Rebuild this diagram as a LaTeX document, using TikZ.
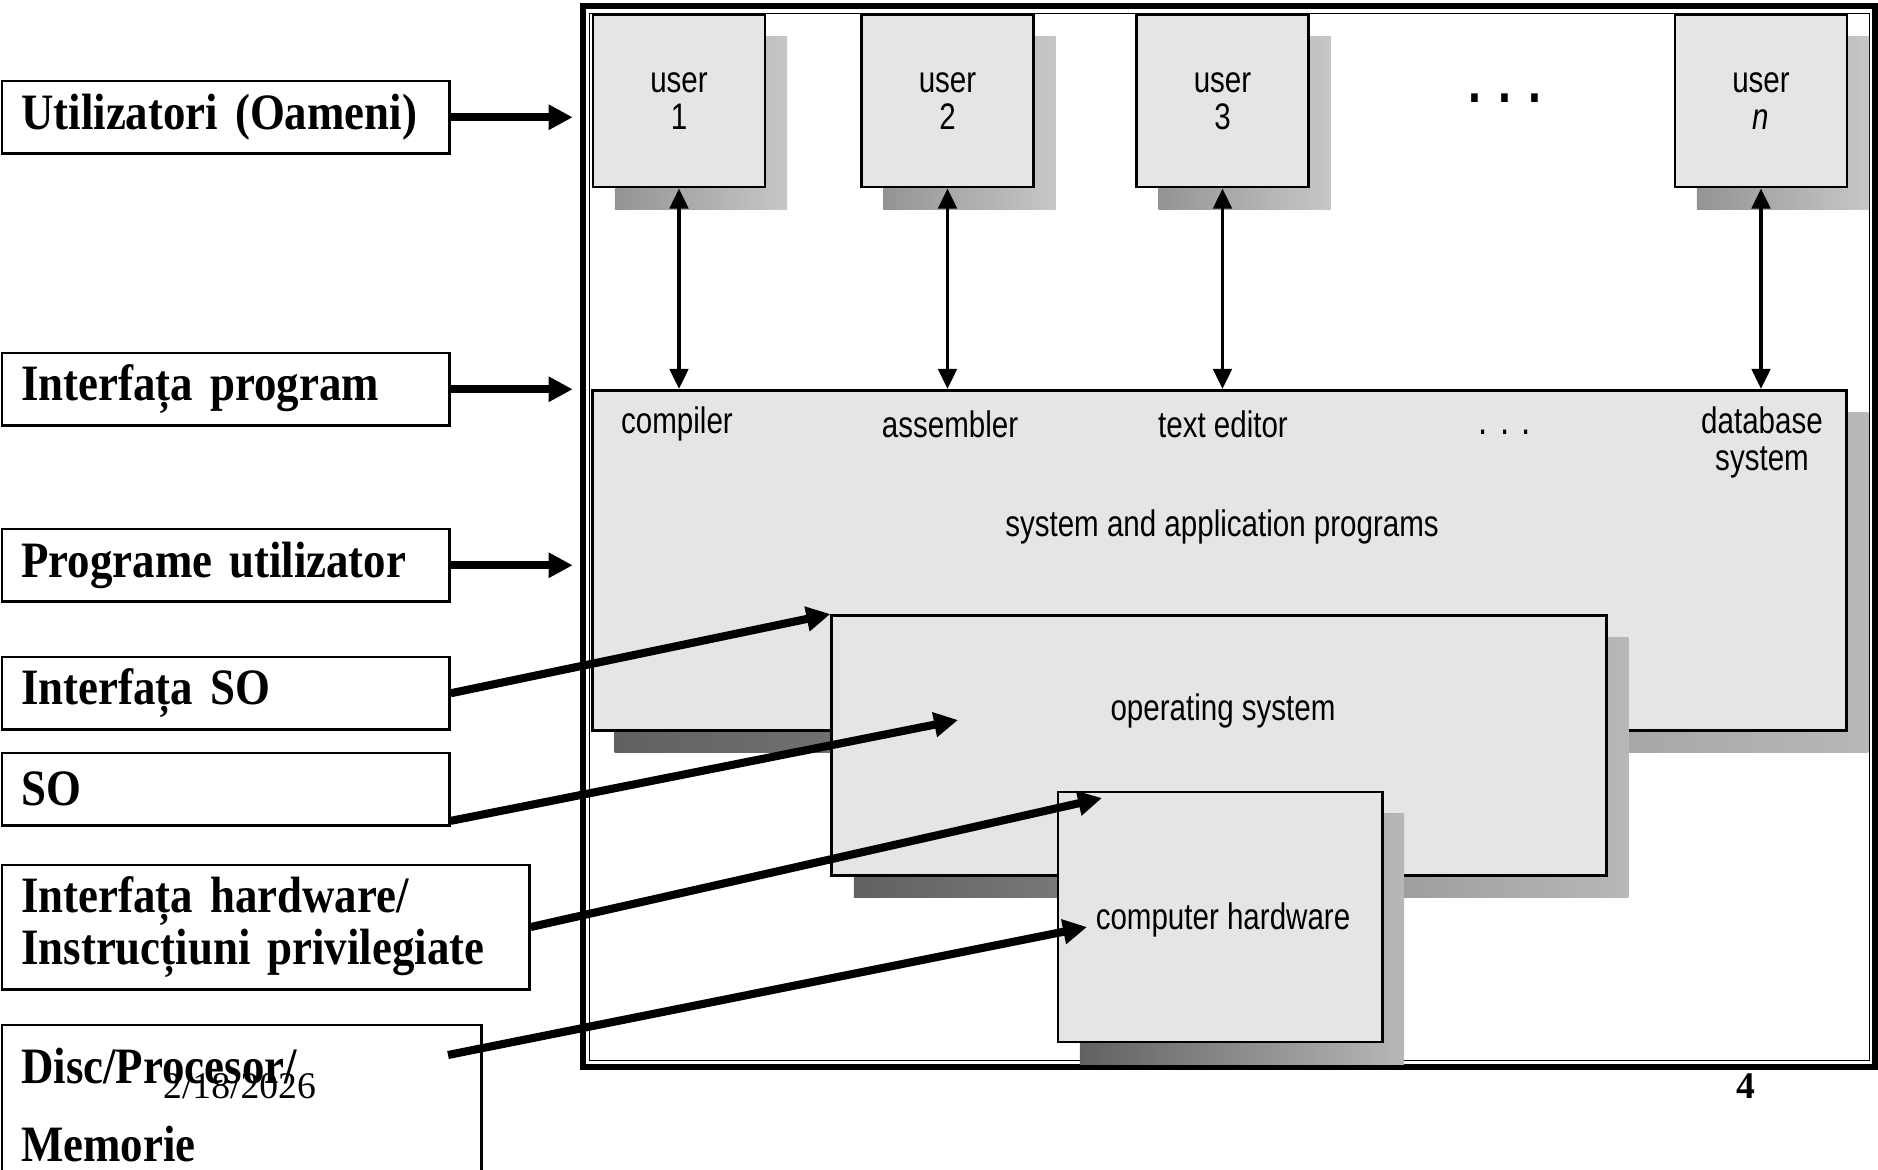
\documentclass[tikz,border=0pt]{standalone}
\usepackage{fontspec}
\setmainfont{Liberation Serif}
\newfontfamily\figfont[FakeStretch=0.8]{Liberation Sans}
\newfontfamily\lblfont[FakeStretch=0.88,WordSpace=0.8]{Liberation Serif}
\usetikzlibrary{arrows.meta,shadows}
\tikzset{
	figtxt/.style={font=\figfont\fontsize{10.5}{10.5}\selectfont, align=center, inner sep=1pt},
	mainbox/.style={draw, line width=0.8pt, fill=black!10, inner sep=0pt},
	bigshadow/.style={general shadow={shadow xshift=0.22cm, shadow yshift=-0.22cm, left color=black!62, right color=black!28}},
	smallshadow/.style={general shadow={shadow xshift=0.22cm, shadow yshift=-0.22cm, left color=black!42, right color=black!22}},
	ubox/.style={mainbox, smallshadow, figtxt, minimum size=1.72cm},
	lblbox/.style={draw, line width=0.7pt, anchor=north west, inner xsep=0.19cm, inner ysep=0pt, align=left, font=\lblfont\bfseries\fontsize{14.5}{15}\selectfont},
	bigarrow/.style={line width=2.3pt, -{Triangle[width=6.8pt,length=6.8pt]}},
	duoarrow/.style={line width=1.1pt, {Triangle[width=5.2pt,length=5.7pt]}-{Triangle[width=5.2pt,length=5.7pt]}}
}

\begin{document}
\begin{tikzpicture}[x=0.01cm, y=-0.01cm]
			%%%%% START %%%%%
			\useasboundingbox (0,0) rectangle (1878,1169);
			
			\node[draw, line width=1.7pt, minimum width=12.92cm, minimum height=10.61cm, inner sep=0pt] (frame) at (1229,536.5) {};
			\node[draw, line width=0.45pt, minimum width=12.79cm, minimum height=10.46cm, inner sep=0pt] (inframe) at (1229.5,537) {};
			
			\node[mainbox, bigshadow, minimum width=12.53cm, minimum height=3.40cm] (prog) at (1219.5,560.5) {};
			\node[mainbox, bigshadow, minimum width=7.74cm, minimum height=2.60cm] (os) at (1219,745.5) {};
			\node[mainbox, bigshadow, minimum width=3.24cm, minimum height=2.50cm] (hw) at (1220,917) {};
			
			\node[ubox] (u1) at (679,101) {user\\1};
			\node[ubox] (u2) at (947.5,101) {user\\2};
			\node[ubox] (u3) at (1222.5,101) {user\\3};
			\node[ubox] (un) at (1761,101) {user\\\textit{n}};
			\node[figtxt, font=\figfont\fontsize{16.5}{16.5}\selectfont\bfseries] (udots) at (1505,98) {. . .};
			
			\node[figtxt] (comp) at (677,424) {compiler};
			\node[figtxt] (asm) at (950,424) {assembler};
			\node[figtxt] (ted) at (1223,424) {text editor};
			\node[figtxt, font=\figfont\fontsize{11.8}{11.8}\selectfont] (pdots) at (1505,432) {. . .};
			\node[figtxt] (dbs) at (1762,442) {database\\system};
			\node[figtxt] (sysapp) at (1222,527) {system and application programs};
			\node[figtxt] (osl) at (1223,711) {operating system};
			\node[figtxt] (hwl) at (1223,920) {computer hardware};
			
			\foreach \u in {u1,u2,u3,un}
				\draw[duoarrow] (\u.south) -- (\u.south |- prog.north);
			
			\node[lblbox, text width=4.09cm, minimum height=0.72cm] (util) at (1,80) {Utilizatori (Oameni)};
			\node[lblbox, text width=4.09cm, minimum height=0.72cm] (progif) at (1,352) {Interfața program};
			\node[lblbox, text width=4.09cm, minimum height=0.72cm] (progu) at (1,528) {Programe utilizator};
			\node[lblbox, text width=4.09cm, minimum height=0.72cm] (soif) at (1,656) {Interfața SO};
			\node[lblbox, text width=4.09cm, minimum height=0.72cm] (so) at (1,752) {SO};
			\node[lblbox, text width=4.89cm, minimum height=1.245cm] (hwif) at (1,863.5) {Interfața hardware/\\Instrucțiuni privilegiate};
			\node[lblbox, text width=4.41cm, minimum height=1.60cm] (disc) at (1,1024) {Disc/Procesor/\\[0.25cm]Memorie};
			
			\draw[bigarrow, shorten >=0.07cm] (util.east) -- (util.east -| frame.west);
			\draw[bigarrow, shorten >=0.07cm] (progif.east) -- (progif.east -| frame.west);
			\draw[bigarrow, shorten >=0.07cm] (progu.east) -- (progu.east -| frame.west);
			
			\coordinate (osin) at (958,720);
			\coordinate (hwtop) at (1102,798);
			\coordinate (hwin) at (1087,927);
			\coordinate (discout) at (448,1055);
			\draw[bigarrow] (soif.east) -- (os.north west);
			\draw[bigarrow] (so.-8) -- (osin);
			\draw[bigarrow] (hwif.east) -- (hwtop);
			\draw[bigarrow] (discout) -- (hwin);
			
			\node[font=\fontsize{10.7}{12}\selectfont] (date) at (239.5,1086) {2/18/2026};
			\node[font=\bfseries\fontsize{10.7}{12}\selectfont] (pnum) at (1746,1086) {4};
			%%%%% END %%%%%
\end{tikzpicture}
\end{document}
